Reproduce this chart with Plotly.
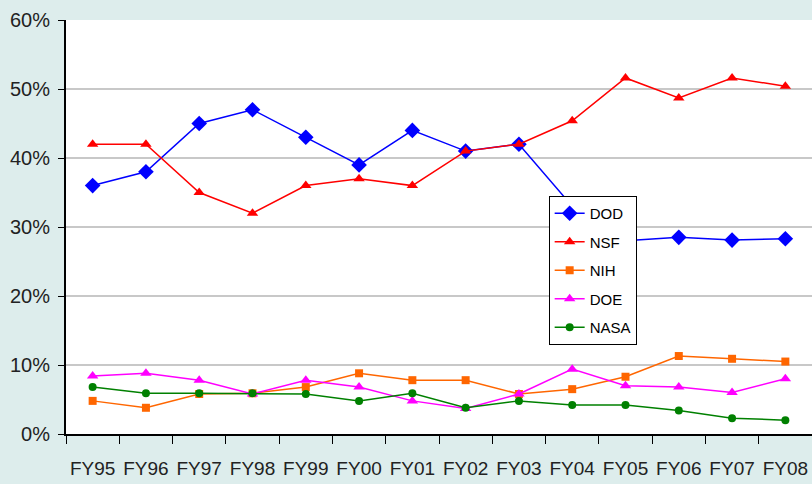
import plotly.graph_objects as go

years = ["FY95", "FY96", "FY97", "FY98", "FY99", "FY00", "FY01",
         "FY02", "FY03", "FY04", "FY05", "FY06", "FY07", "FY08"]
dod = [36, 38, 45, 47, 43, 39, 44, 41, 42, 33, 28, 28.5, 28.1, 28.3]
nsf = [42, 42, 35, 32, 36, 37, 36, 41, 42, 45.4, 51.6, 48.7, 51.6, 50.4]
nih = [4.8, 3.8, 5.8, 5.9, 6.8, 8.8, 7.8, 7.8, 5.8, 6.5, 8.3, 11.3, 10.9, 10.5]
doe = [8.4, 8.8, 7.8, 5.8, 7.8, 6.8, 4.8, 3.7, 5.8, 9.4, 7.0, 6.8, 6.0, 8.0]
nasa = [6.8, 5.9, 5.9, 5.9, 5.8, 4.8, 5.9, 3.8, 4.8, 4.2, 4.2, 3.4, 2.3, 2.0]

series = [
    ("DOD", dod, "#0000FF", "diamond", 12),
    ("NSF", nsf, "#FF0000", "triangle-up", 10),
    ("NIH", nih, "#FF6600", "square", 8),
    ("DOE", doe, "#FF00FF", "triangle-up", 10),
    ("NASA", nasa, "#008000", "circle", 8),
]

fig = go.Figure()
for name, vals, color, sym, size in series:
    fig.add_trace(go.Scatter(
        x=years, y=[v / 100 for v in vals], name=name, mode="lines+markers",
        line=dict(color=color, width=1.5),
        marker=dict(symbol=sym, size=size, color=color),
        legendgroup=name,
    ))

bg = "#DDEDEC"
font_fam = "Liberation Sans, Arial, sans-serif"
fig.update_layout(
    width=812, height=484,
    margin=dict(l=66, r=0, t=20, b=50),
    paper_bgcolor=bg, plot_bgcolor="white",
    showlegend=True,
    legend=dict(
        x=0.647, y=0.575, xanchor="left", yanchor="top",
        bgcolor="white", bordercolor="black", borderwidth=1,
        font=dict(family=font_fam, size=15, color="black"),
        tracegroupgap=6, itemwidth=30,
    ),
    xaxis=dict(
        type="category", range=[-0.5, 13.5], automargin=False,
        showgrid=False, showline=True, linecolor="black", linewidth=2,
        ticks="outside", tickson="boundaries", ticklen=8, tickcolor="black", tickwidth=1,
        ticklabelstandoff=16, tickangle=0,
        tickfont=dict(family=font_fam, size=19, color="#222222"),
    ),
    yaxis=dict(
        range=[0, 0.6], dtick=0.1, tickformat=".0%", automargin=False,
        showgrid=True, gridcolor="#C8C8C8", gridwidth=1.5,
        showline=True, linecolor="black", linewidth=2,
        ticks="outside", ticklen=6, tickcolor="black",
        ticklabelstandoff=4,
        zeroline=False,
        tickfont=dict(family=font_fam, size=20, color="#222222"),
    ),
)

fig.write_html("out.html", config={"displayModeBar": False},
               post_script="document.body.style.margin='0';document.body.style.padding='0';")
